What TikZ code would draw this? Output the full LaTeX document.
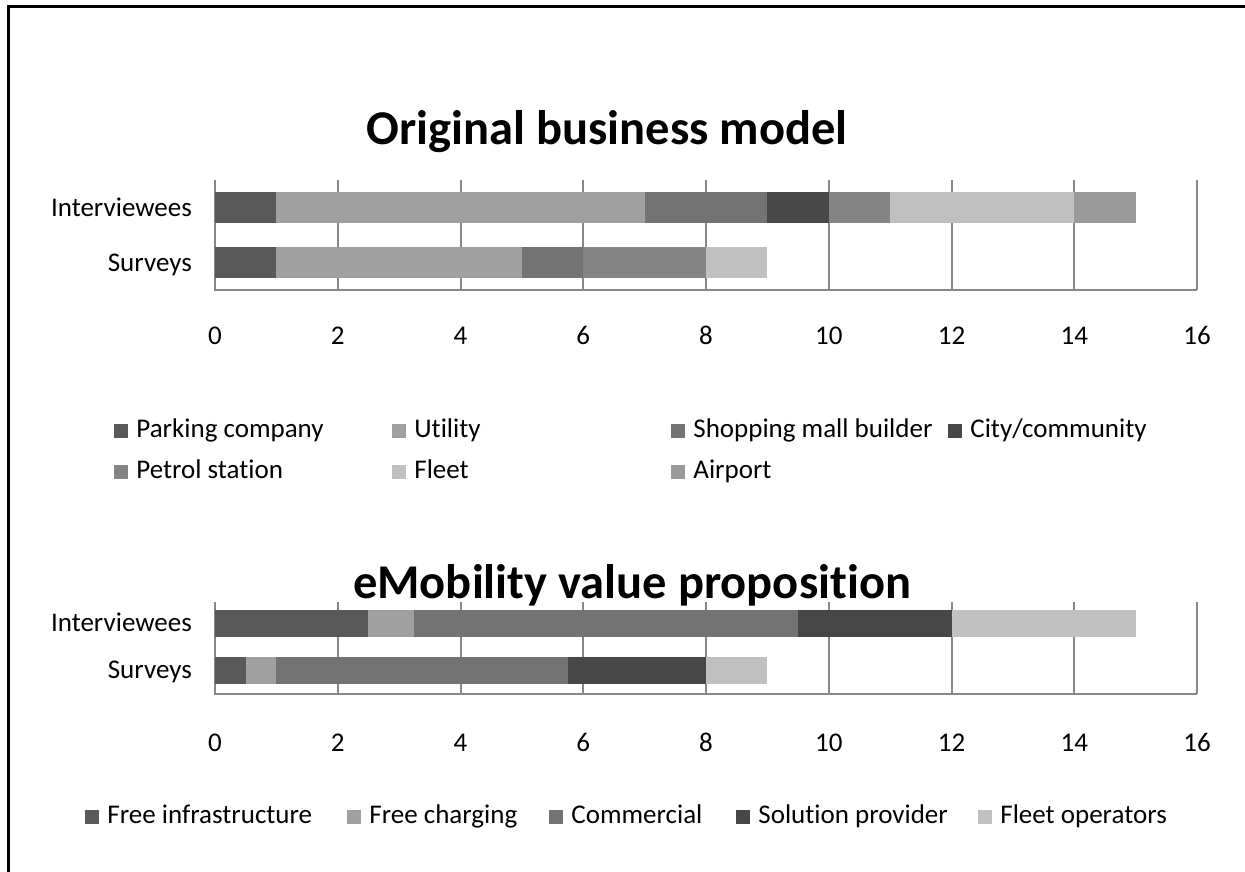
\documentclass[tikz,border=0pt]{standalone}
\usepackage{fontspec}
\setmainfont[RawFeature={-liga;-clig;-calt;-dlig}]{Carlito}
\usepackage{xcolor}
\usetikzlibrary{positioning}

\definecolor{cpark}{HTML}{595959}
\definecolor{cutil}{HTML}{A0A0A0}
\definecolor{cshop}{HTML}{737373}
\definecolor{ccity}{HTML}{474747}
\definecolor{cpetrol}{HTML}{848484}
\definecolor{cfleet}{HTML}{C0C0C0}
\definecolor{cairport}{HTML}{9A9A9A}
\definecolor{gridgray}{HTML}{878787}

\tikzset{
  gridline/.style={draw=gridgray, line width=2pt},
  legbox/.style={rectangle, minimum size=14pt, inner sep=0pt},
  lab/.style={font=\fontsize{27}{32}\selectfont, inner sep=0pt, text height=18pt, text depth=5pt},
  charttitle/.style={font=\fontsize{48.5}{56}\selectfont\bfseries, inner sep=0pt, anchor=base}
}

\begin{document}
\begin{tikzpicture}[x=1pt, y=-1pt]
        \useasboundingbox (0,0) rectangle (1245,872);
        \draw[line width=3pt] (8,7) rectangle (1280,900);

        %% first chart
        \node[charttitle] (title1) at (607,145) {Original business model};
        \node[lab, anchor=east] (int1) at (192,210) {Interviewees};
        \node[lab, anchor=east] (surv1) at (192,265) {Surveys};

        \begin{scope}[shift={(215,0)}, x=61.375pt]
        \draw[gridline] (2,180) -- (2,290);
        \draw[gridline] (4,180) -- (4,290);
        \draw[gridline] (6,180) -- (6,290);
        \draw[gridline] (8,180) -- (8,290);
        \draw[gridline] (10,180) -- (10,290);
        \draw[gridline] (12,180) -- (12,290);
        \draw[gridline] (14,180) -- (14,290);
        \draw[gridline] (16,180) -- (16,290);
        \draw[gridline] (0,180) -- (0,290) -- (16,290);

        % interviewees
        \fill[cpark] (0,192) rectangle (1,223);
        \fill[cutil] (1,192) rectangle (7,223);
        \fill[cshop] (7,192) rectangle (9,223);
        \fill[ccity] (9,192) rectangle (10,223);
        \fill[cpetrol] (10,192) rectangle (11,223);
        \fill[cfleet] (11,192) rectangle (14,223);
        \fill[cairport] (14,192) rectangle (15,223);
        % surveys
        \fill[cpark] (0,247) rectangle (1,278);
        \fill[cutil] (1,247) rectangle (5,278);
        \fill[cshop] (5,247) rectangle (6,278);
        \fill[cpetrol] (6,247) rectangle (8,278);
        \fill[cfleet] (8,247) rectangle (9,278);

        \node[lab] (a0) at (0,338) {0};
        \node[lab] (a2) at (2,338) {2};
        \node[lab] (a4) at (4,338) {4};
        \node[lab] (a6) at (6,338) {6};
        \node[lab] (a8) at (8,338) {8};
        \node[lab] (a10) at (10,338) {10};
        \node[lab] (a12) at (12,338) {12};
        \node[lab] (a14) at (14,338) {14};
        \node[lab] (a16) at (16,338) {16};
        \end{scope}

        \node[legbox, fill=cpark] (lpark) at (121,431) {};
        \node[lab, right= 8pt of lpark] {Parking company};
        \node[legbox, fill=cutil] (lutil) at (399,431) {};
        \node[lab, right= 8pt of lutil] {Utility};
        \node[legbox, fill=cshop] (lshop) at (678,431) {};
        \node[lab, right= 8pt of lshop] {Shopping mall builder};
        \node[legbox, fill=ccity] (lcity) at (955,431) {};
        \node[lab, right= 8pt of lcity] {City/community};
        \node[legbox, fill=cpetrol] (lpetrol) at (121,472) {};
        \node[lab, right= 8pt of lpetrol] {Petrol station};
        \node[legbox, fill=cfleet] (lfleet) at (399,472) {};
        \node[lab, right= 8pt of lfleet] {Fleet};
        \node[legbox, fill=cairport] (lairport) at (678,472) {};
        \node[lab, right= 8pt of lairport] {Airport};

        %% second chart
        \node[charttitle] (title2) at (632,598) {eMobility value proposition};
        \node[lab, anchor=east] (int2) at (192,625) {Interviewees};
        \node[lab, anchor=east] (surv2) at (192,672) {Surveys};

        \begin{scope}[shift={(215,0)}, x=61.375pt]
        \draw[gridline] (2,602) -- (2,694);
        \draw[gridline] (4,602) -- (4,694);
        \draw[gridline] (6,602) -- (6,694);
        \draw[gridline] (8,602) -- (8,694);
        \draw[gridline] (10,602) -- (10,694);
        \draw[gridline] (12,602) -- (12,694);
        \draw[gridline] (14,602) -- (14,694);
        \draw[gridline] (16,602) -- (16,694);
        \draw[gridline] (0,602) -- (0,694) -- (16,694);

        % interviewees
        \fill[cpark] (0,610) rectangle (2.5,636.5);
        \fill[cutil] (2.5,610) rectangle (3.25,636.5);
        \fill[cshop] (3.25,610) rectangle (9.5,636.5);
        \fill[ccity] (9.5,610) rectangle (12,636.5);
        \fill[cfleet] (12,610) rectangle (15,636.5);
        % surveys
        \fill[cpark] (0,657) rectangle (0.5,684);
        \fill[cutil] (0.5,657) rectangle (1,684);
        \fill[cshop] (1,657) rectangle (5.75,684);
        \fill[ccity] (5.75,657) rectangle (8,684);
        \fill[cfleet] (8,657) rectangle (9,684);

        \node[lab] (b0) at (0,745) {0};
        \node[lab] (b2) at (2,745) {2};
        \node[lab] (b4) at (4,745) {4};
        \node[lab] (b6) at (6,745) {6};
        \node[lab] (b8) at (8,745) {8};
        \node[lab] (b10) at (10,745) {10};
        \node[lab] (b12) at (12,745) {12};
        \node[lab] (b14) at (14,745) {14};
        \node[lab] (b16) at (16,745) {16};
        \end{scope}

        \node[legbox, fill=cpark] (lfree) at (92,817) {};
        \node[lab, right= 8pt of lfree] {Free infrastructure};
        \node[legbox, fill=cutil] (lcharge) at (354,817) {};
        \node[lab, right= 8pt of lcharge] {Free charging};
        \node[legbox, fill=cshop] (lcomm) at (556,817) {};
        \node[lab, right= 8pt of lcomm] {Commercial};
        \node[legbox, fill=ccity] (lsol) at (743,817) {};
        \node[lab, right= 8pt of lsol] {Solution provider};
        \node[legbox, fill=cfleet] (lfleetop) at (985,817) {};
        \node[lab, right= 8pt of lfleetop] {Fleet operators};
\end{tikzpicture}
\end{document}
